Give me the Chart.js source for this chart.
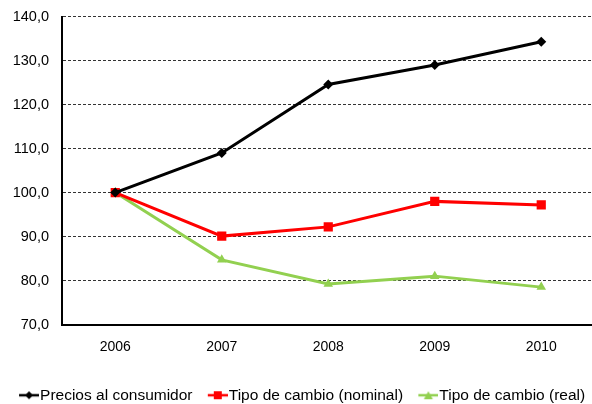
<!DOCTYPE html>
<html>
<head>
<meta charset="utf-8">
<script src="https://cdn.jsdelivr.net/npm/chart.js@4"></script>
<style>
  html, body { margin: 0; padding: 0; background: #fff; overflow: hidden; }
  #outer { width: 592px; height: 404px; overflow: hidden; }
  #wrap { width: 601px; height: 418px; margin-top: -5px; }
</style>
</head>
<body>
<div id="outer"><div id="wrap"><canvas id="ipcChart"></canvas></div></div>
<script>
const years = ["2006", "2007", "2008", "2009", "2010"];
const precios = [100, 109.0, 124.6, 129.0, 134.3];
const cambioNominal = [100, 90.1, 92.2, 98.0, 97.2];
const cambioReal = [100, 84.7, 79.2, 81.0, 78.5];
const yMin = 70, yMax = 140, yStep = 10;

// line+marker icons for the legend (line sits in the right 20px)
function legendIcon(color, style) {
  const c = document.createElement('canvas');
  c.width = 30; c.height = 12;
  const g = c.getContext('2d');
  g.strokeStyle = color; g.fillStyle = color; g.lineWidth = 2.5;
  g.beginPath(); g.moveTo(10, 6); g.lineTo(30, 6); g.stroke();
  g.beginPath();
  if (style == 'rectRot') {
    g.moveTo(20, 2); g.lineTo(24, 6); g.lineTo(20, 10); g.lineTo(16, 6);
  } else if (style == 'rect') {
    g.rect(16, 2, 8, 8);
  } else {
    g.moveTo(20, 2); g.lineTo(24.5, 10); g.lineTo(15.5, 10);
  }
  g.closePath(); g.fill();
  return c;
}

const series = [
  { label: 'Precios al consumidor', data: precios, color: '#000000', style: 'rectRot', r: 5 },
  { label: 'Tipo de cambio (nominal)', data: cambioNominal, color: '#ff0000', style: 'rect', r: 6.5 },
  { label: 'Tipo de cambio (real)', data: cambioReal, color: '#92d050', style: 'triangle', r: 5.5 },
];

const ctx = document.getElementById('ipcChart');
const chart = new Chart(ctx, {
  type: 'line',
  data: {
    labels: years,
    datasets: series.map(s => ({
      label: s.label,
      data: s.data,
      borderColor: s.color,
      backgroundColor: s.color,
      borderWidth: 3,
      pointStyle: s.style,
      pointRadius: s.r,
      pointHoverRadius: s.r,
      pointBorderWidth: 0,
      tension: 0,
    })),
  },
  options: {
    responsive: true,
    maintainAspectRatio: false,
    animation: false,
    layout: { padding: { top: 5, left: 0, right: 0, bottom: 0 } },
    plugins: {
      tooltip: { enabled: false },
      legend: {
        position: 'bottom',
        labels: {
          color: '#000',
          font: { family: 'Liberation Sans, Arial', size: 15.5 },
          usePointStyle: true,
          pointStyleWidth: 16.5,
          padding: 12,
          generateLabels: function(ch) {
            return ch.data.datasets.map((ds, i) => ({
              text: ds.label,
              pointStyle: legendIcon(series[i].color, series[i].style),
              fontColor: '#000',
              datasetIndex: i,
              lineWidth: 0,
            }));
          },
        },
      },
    },
    scales: {
      x: {
        offset: true,
        afterFit: function(scale) { scale.height = 51; },
        grid: { display: false, drawTicks: false },
        border: { display: true, color: '#000', width: 2 },
        ticks: { color: '#000', font: { family: 'Liberation Sans, Arial', size: 14 }, padding: 14 },
      },
      y: {
        min: yMin,
        max: yMax,
        afterFit: function(scale) { scale.width = 62; },
        grid: { color: '#333', lineWidth: 1, drawTicks: false },
        border: { display: true, color: '#000', width: 2, dash: [3, 2] },
        ticks: {
          stepSize: yStep,
          color: '#000',
          padding: 13,
          font: { family: 'Liberation Sans, Arial', size: 14.5 },
          callback: v => v.toFixed(1).replace('.', ','),
        },
      },
    },
  },
});
</script>
</body>
</html>
